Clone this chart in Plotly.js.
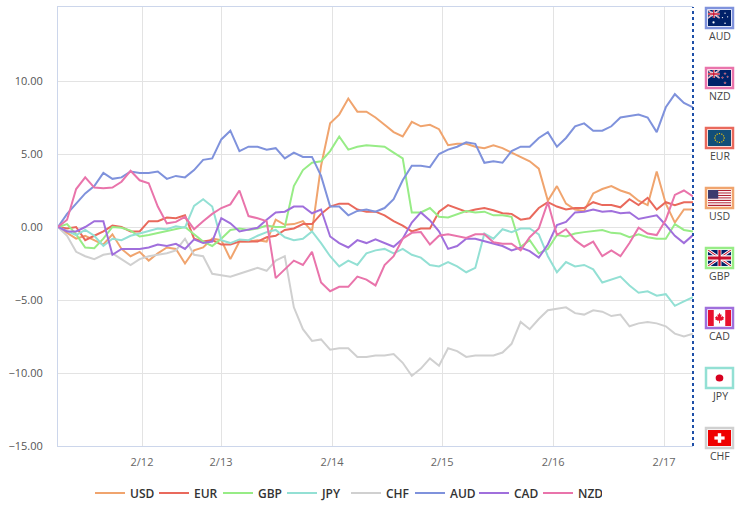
<!DOCTYPE html>
<html>
<head>
<meta charset="utf-8">
<script src="https://cdn.plot.ly/plotly-3.0.1.min.js"></script>
<style>
html,body{margin:0;padding:0;background:#fff;}
#chart{width:739px;height:508px;}
</style>
</head>
<body>
<div id="chart"></div>
<script>
// ---- data (hourly-ish samples, index based) ----
const tickPositions = [9.26, 17.97, 30.21, 42.34, 54.58, 66.81];
const tickLabels = ["2/12", "2/13", "2/14", "2/15", "2/16", "2/17"];
const currencies = ["USD", "EUR", "GBP", "JPY", "CHF", "AUD", "CAD", "NZD"];

const USD = [0,-0.4,-0.8,-0.6,-0.9,-1.2,-0.5,-1.5,-2.0,-1.7,-2.3,-1.8,-1.4,-1.5,-2.5,-1.6,-1.4,-0.8,-0.9,-2.2,-1.0,-1.0,-0.9,-1.0,0.5,0.15,0.2,0.4,-0.3,4.2,7.1,7.7,8.8,7.9,7.9,7.5,7.0,6.5,6.2,7.2,6.9,7.0,6.7,5.6,5.7,5.7,5.5,5.4,5.6,5.4,5.1,4.8,4.5,4.0,1.8,2.8,1.6,1.2,1.1,2.3,2.6,2.8,2.5,2.3,1.8,1.5,3.8,1.6,0.3,1.2,1.2];
const EUR = [0,-0.1,0.0,-0.9,-0.6,-0.3,0.1,0.0,-0.3,-0.3,0.4,0.4,0.65,0.6,0.8,-0.8,-1.0,-0.9,-1.2,-1.2,-1.0,-1.0,-1.0,-0.7,-0.6,-0.2,-0.1,0.2,0.2,0.9,1.4,1.6,1.6,1.2,1.05,1.05,0.8,0.4,0.1,-0.3,-0.1,-0.1,1.05,1.5,1.25,1.05,1.2,1.3,1.15,0.94,0.9,0.5,0.6,1.3,1.7,1.4,1.2,1.3,1.3,1.7,1.5,1.5,1.35,1.9,1.5,2.0,1.2,1.7,1.5,1.7,1.7];
const GBP = [0,0.2,-0.5,-1.4,-1.45,-0.8,0,-0.05,-0.25,-0.65,-0.55,-0.4,-0.25,-0.15,0,-0.5,-1.0,-1.3,-0.8,-0.2,-0.1,-0.2,-0.1,0.1,0,0,2.8,3.9,4.4,4.5,5.2,6.2,5.3,5.5,5.6,5.55,5.5,5.1,4.7,1.0,1.0,1.3,0.7,0.65,0.85,1.1,1.0,1.05,0.8,0.8,0.7,-1.35,-0.9,-1.8,-1.5,-0.55,-0.65,-0.45,-0.35,-0.3,-0.2,-0.4,-0.45,-0.7,-0.5,-0.7,-0.8,-0.8,0.2,-0.2,-0.3];
const JPY = [0,-0.3,-0.55,-0.2,-0.6,-1.3,-0.8,-0.9,-0.6,-0.45,-0.25,-0.1,-0.15,0.05,-0.05,1.45,1.9,1.4,-0.9,-1.1,-0.85,-0.9,-0.6,-0.35,-0.2,-0.7,-0.9,-0.8,-0.3,-1.1,-2.0,-2.7,-2.3,-2.6,-1.8,-1.6,-1.5,-1.8,-1.5,-1.9,-2.1,-2.6,-2.7,-2.4,-2.7,-3.1,-2.8,-0.45,-0.8,-0.15,-0.35,-0.1,-0.1,-0.5,-2.0,-3.1,-2.4,-2.7,-2.6,-2.9,-3.8,-3.6,-3.4,-4.0,-4.5,-4.4,-4.7,-4.6,-5.4,-5.1,-4.8];
const CHF = [0,-0.6,-1.7,-2.0,-2.2,-1.9,-1.8,-2.2,-2.6,-2.2,-2.0,-1.9,-1.8,-1.6,-0.8,-1.9,-2.0,-3.2,-3.3,-3.4,-3.2,-3.0,-2.8,-3.0,-2.3,-2.0,-5.5,-7.0,-7.8,-7.7,-8.4,-8.3,-8.3,-8.9,-8.9,-8.8,-8.8,-8.7,-9.3,-10.2,-9.7,-9.0,-9.5,-8.3,-8.5,-8.9,-8.8,-8.8,-8.8,-8.6,-8.0,-6.5,-7.0,-6.3,-5.7,-5.6,-5.5,-5.9,-6.0,-5.7,-5.8,-6.1,-6.0,-6.8,-6.6,-6.5,-6.6,-6.8,-7.3,-7.5,-7.3];
const AUD = [0,0.9,1.6,2.3,2.8,3.7,3.3,3.4,3.8,3.7,3.7,3.8,3.3,3.5,3.4,3.9,4.6,4.7,6.0,6.6,5.2,5.5,5.5,5.3,5.4,4.7,5.1,4.8,4.8,3.5,1.4,1.4,0.8,1.1,1.2,1.05,1.3,1.9,3.2,4.2,4.2,4.1,5.0,5.3,5.5,5.8,5.7,4.4,4.5,4.4,5.2,5.5,5.5,6.1,6.5,5.5,6.1,6.9,7.1,6.6,6.6,6.9,7.5,7.6,7.7,7.5,6.5,8.2,9.1,8.5,8.2];
const CAD = [0,-0.3,-0.3,0.0,0.4,0.4,-1.9,-1.5,-1.5,-1.5,-1.4,-1.2,-1.3,-1.15,-1.5,-0.85,-1.1,-1.0,0.6,0.25,-0.3,-0.15,-0.05,0.5,1.0,1.05,1.4,1.4,0.94,1.2,-0.65,-1.1,-1.4,-0.9,-1.1,-0.85,-1.1,-1.35,-0.8,0.3,1.0,0.45,-0.3,-1.5,-1.3,-0.8,-0.8,-0.95,-1.15,-1.3,-1.6,-1.4,-1.65,-2.1,-1.2,0.14,0.35,1.0,1.05,1.2,1.05,1.1,0.95,1.0,0.55,0.7,0.8,0.14,-0.6,-1.1,-0.55];
const NZD = [0,0.5,2.6,3.4,2.7,2.65,2.7,3.1,3.85,3.2,3.0,1.4,0.25,0.35,0.7,-0.15,0.4,0.9,1.3,1.55,2.5,0.75,0.6,0.4,-3.5,-2.9,-2.3,-2.6,-1.7,-3.8,-4.4,-4.1,-4.1,-3.4,-3.6,-4.0,-2.6,-2.0,-0.8,-0.4,-0.35,-1.2,-0.6,-0.5,-0.65,-0.75,-0.5,-0.5,-1.05,-1.15,-1.15,-1.6,-0.7,-0.1,1.7,-0.55,-0.15,-0.9,-1.35,-1.0,-2.0,-1.6,-2.0,-1.1,-0.05,-0.45,-0.55,0.5,2.2,2.5,2.1];

const seriesValues = {USD, EUR, GBP, JPY, CHF, AUD, CAD, NZD};
const colors = {USD:"#f0a46e", EUR:"#e9695c", GBP:"#97ec86", JPY:"#93e0d4", CHF:"#d0d0d0", AUD:"#7f92dc", CAD:"#a06fdc", NZD:"#e974ab"};
const flagOrder = ["AUD", "NZD", "EUR", "USD", "GBP", "CAD", "JPY", "CHF"];

// ---- traces ----
const xs = USD.map((_, i) => i);
const traces = currencies.map(c => ({
  x: xs, y: seriesValues[c], type: "scatter", mode: "lines", name: c,
  line: {color: colors[c], width: 2}, hoverinfo: "name+y"
}));

// ---- geometry helpers (plot area in pixels) ----
const L = 58, T = 7, W = 635, H = 439;
const px2x = p => (p - L) / W;
const py2y = p => (T + H - p) / H;

// ---- flag svgs ----
const UJ = "<rect width='60' height='30' fill='#012169'/><path d='M0,0 L60,30 M60,0 L0,30' stroke='#fff' stroke-width='6'/><path d='M0,0 L60,30 M60,0 L0,30' stroke='#C8102E' stroke-width='2'/><path d='M30,0 v30 M0,15 h60' stroke='#fff' stroke-width='10'/><path d='M30,0 v30 M0,15 h60' stroke='#C8102E' stroke-width='6'/>";
function svg(body){ return "data:image/svg+xml;base64," + btoa("<svg xmlns='http://www.w3.org/2000/svg' viewBox='0 0 54 40' preserveAspectRatio='none'>" + body + "</svg>"); }
function stripes(){ let s = ""; for (let k = 0; k < 13; k++) s += "<rect y='" + (k*40/13) + "' width='54' height='" + (40/13) + "' fill='" + (k%2 ? "#fff" : "#B22234") + "'/>"; return s; }
function euStars(){ let s=""; for (let k=0;k<12;k++){ const a=k*Math.PI/6; s += "<circle cx='"+(27+11*Math.cos(a))+"' cy='"+(20+11*Math.sin(a))+"' r='1.6' fill='#ffcc00'/>"; } return s; }
const flags = {
  AUD: svg("<rect width='54' height='40' fill='#012169'/><g transform='scale(0.45,0.667)'>" + UJ + "</g><circle cx='13' cy='31' r='2.6' fill='#fff'/><circle cx='40' cy='8' r='1.6' fill='#fff'/><circle cx='34' cy='19' r='1.6' fill='#fff'/><circle cx='46' cy='17' r='1.6' fill='#fff'/><circle cx='40' cy='33' r='1.8' fill='#fff'/>"),
  NZD: svg("<rect width='54' height='40' fill='#012169'/><g transform='scale(0.45,0.667)'>" + UJ + "</g><circle cx='40' cy='9' r='2' fill='#C8102E' stroke='#fff' stroke-width='0.8'/><circle cx='34' cy='19' r='2' fill='#C8102E' stroke='#fff' stroke-width='0.8'/><circle cx='46' cy='17' r='1.8' fill='#C8102E' stroke='#fff' stroke-width='0.8'/><circle cx='40' cy='32' r='2.2' fill='#C8102E' stroke='#fff' stroke-width='0.8'/>"),
  EUR: svg("<rect width='54' height='40' fill='#124e78'/>" + euStars()),
  USD: svg(stripes() + "<rect width='24' height='21.5' fill='#3C3B6E'/>"),
  GBP: svg("<g transform='scale(0.9,1.333)'>" + UJ + "</g>"),
  CAD: svg("<rect width='54' height='40' fill='#fff'/><rect width='13.5' height='40' fill='#e8112d'/><rect x='40.5' width='13.5' height='40' fill='#e8112d'/><path d='M27,7 L29.5,12 L32,11 L31,18 L35,15 L35.5,18 L38,17.5 L36,22 L37.5,23 L31,27 L28,26 L28,33 L26,33 L26,26 L23,27 L16.5,23 L18,22 L16,17.5 L18.5,18 L19,15 L23,18 L22,11 L24.5,12 Z' fill='#e8112d'/>"),
  JPY: svg("<rect width='54' height='40' fill='#fff'/><circle cx='27' cy='20' r='9' fill='#d7001f'/>"),
  CHF: svg("<rect width='54' height='40' fill='#ef0000'/><rect x='23' y='8' width='8' height='24' fill='#fff'/><rect x='15' y='16' width='24' height='8' fill='#fff'/>")
};

const shapes = [{
  type: "line", xref: "paper", yref: "paper", x0: 1, x1: 1, y0: 0, y1: 1,
  line: {color: "#1e4fa8", width: 2, dash: "dot"}
}];
const images = [];
const annotations = [];
flagOrder.forEach((c, k) => {
  const top = 8 + k * 60;
  shapes.push({type: "rect", xref: "paper", yref: "paper",
    x0: px2x(706), x1: px2x(733), y0: py2y(top + 20), y1: py2y(top),
    line: {color: colors[c], width: 2.5}, fillcolor: "rgba(0,0,0,0)"});
  images.push({source: flags[c], xref: "paper", yref: "paper",
    x: px2x(708), y: py2y(top + 2), sizex: 23 / W, sizey: 16 / H,
    xanchor: "left", yanchor: "top", sizing: "stretch", layer: "above"});
  annotations.push({text: c, xref: "paper", yref: "paper",
    x: px2x(719.5), y: py2y(top + 28), showarrow: false,
    xanchor: "center", yanchor: "middle",
    font: {family: "Open Sans, Arial, sans-serif", size: 10.5, color: "#444"}});
});

const layout = {
  width: 739, height: 508,
  margin: {l: L, r: 739 - L - W, t: T, b: 508 - T - H, autoexpand: false},
  paper_bgcolor: "#fff", plot_bgcolor: "#fff",
  showlegend: true,
  legend: {orientation: "h", x: px2x(346), xanchor: "center", y: py2y(493), yanchor: "middle",
    itemwidth: 30, entrywidth: 19, entrywidthmode: "pixels",
    font: {family: "Open Sans, Arial, sans-serif", size: 12, color: "#333", weight: 600},
    traceorder: "normal", tracegroupgap: 0},
  xaxis: {
    range: [0, 70], tickmode: "array", tickvals: tickPositions, ticktext: tickLabels,
    showgrid: true, gridcolor: "#e3e3e3", gridwidth: 1, zeroline: false,
    showline: true, linecolor: "#ccd6eb", linewidth: 1, mirror: true,
    ticks: "", ticklabelstandoff: 6,
    tickfont: {family: "Open Sans, Arial, sans-serif", size: 11, color: "#666"},
    fixedrange: true
  },
  yaxis: {
    range: [-15, 15.07], tickmode: "array", tickvals: [-15, -10, -5, 0, 5, 10],
    tickformat: ".2f",
    showgrid: true, gridcolor: "#e3e3e3", gridwidth: 1, zeroline: false,
    showline: true, linecolor: "#ccd6eb", linewidth: 1,
    ticks: "", ticklabelstandoff: 12,
    tickfont: {family: "Open Sans, Arial, sans-serif", size: 11, color: "#555"},
    fixedrange: true
  },
  shapes: shapes, images: images, annotations: annotations
};

Plotly.newPlot("chart", traces, layout, {displayModeBar: false, staticPlot: true});
</script>
</body>
</html>
